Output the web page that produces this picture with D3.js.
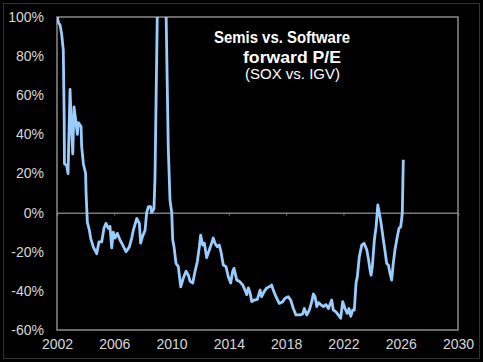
<!DOCTYPE html>
<html>
<head>
<meta charset="utf-8">
<script src="https://cdn.jsdelivr.net/npm/d3@7"></script>
<style>
  body { margin: 0; background: #000; }
  svg { display: block; }
</style>
</head>
<body>
<div id="chart"></div>
<script>
// relative forward P/E, SOX vs IGV
var years = [2002.00, 2002.10, 2002.21, 2002.33, 2002.44, 2002.47, 2002.50, 2002.51, 2002.52, 2002.68,
  2002.77, 2002.91, 2002.98, 2003.10, 2003.19, 2003.31, 2003.42, 2003.49, 2003.68, 2003.72,
  2003.84, 2004.00, 2004.03, 2004.12, 2004.26, 2004.35, 2004.53, 2004.77, 2004.93, 2005.12,
  2005.28, 2005.42, 2005.58, 2005.70, 2005.82, 2005.93, 2006.05, 2006.21, 2006.40, 2006.59,
  2006.82, 2007.05, 2007.22, 2007.33, 2007.57, 2007.75, 2007.84, 2007.98, 2008.15, 2008.26,
  2008.38, 2008.54, 2008.61, 2008.77, 2008.84, 2009.29, 2009.77, 2009.89, 2010.01, 2010.08,
  2010.17, 2010.31, 2010.47, 2010.64, 2010.82, 2011.01, 2011.17, 2011.29, 2011.48, 2011.64,
  2011.80, 2011.94, 2012.03, 2012.17, 2012.29, 2012.45, 2012.64, 2012.80, 2012.91, 2013.03,
  2013.19, 2013.33, 2013.45, 2013.61, 2013.80, 2013.96, 2014.13, 2014.27, 2014.36, 2014.55,
  2014.71, 2014.85, 2014.97, 2015.13, 2015.25, 2015.36, 2015.48, 2015.60, 2015.78, 2015.99,
  2016.18, 2016.29, 2016.46, 2016.64, 2016.83, 2016.99, 2017.10, 2017.29, 2017.52, 2017.76,
  2017.92, 2018.15, 2018.32, 2018.50, 2018.69, 2018.97, 2019.16, 2019.27, 2019.44, 2019.62,
  2019.79, 2019.90, 2020.02, 2020.14, 2020.25, 2020.42, 2020.60, 2020.78, 2020.95, 2021.06,
  2021.18, 2021.29, 2021.48, 2021.64, 2021.81, 2021.95, 2022.11, 2022.27, 2022.39, 2022.51,
  2022.65, 2022.76, 2022.88, 2022.97, 2023.11, 2023.28, 2023.44, 2023.63, 2023.72, 2023.86,
  2023.93, 2024.02, 2024.16, 2024.28, 2024.40, 2024.49, 2024.63, 2024.79, 2024.91, 2025.02,
  2025.14, 2025.25, 2025.37, 2025.48, 2025.60, 2025.76, 2025.88, 2026.00, 2026.11, 2026.18];

var relPE = [101, 97, 96, 91, 83, 66, 49, 37, 25, 24,
  20, 63, 49, 30, 54, 47, 40, 46, 44, 34,
  25, 20, 10, -5, -9, -13, -17.5, -21, -15, -15,
  -8, -5.5, -8, -7, -18, -10, -13, -10.6, -14, -16.6,
  -20, -17.5, -13, -9, -3, -5.5, -15.6, -12, -9, 0,
  3, 3, 0, 2, 17, 250, 33, 6.4, 0, -14,
  -17.4, -26, -27.6, -37.9, -33.5, -30, -32, -35, -36, -30,
  -25, -17.4, -11.5, -16.6, -15.6, -23, -19, -15.6, -13, -15.6,
  -17.4, -16.6, -20, -26.8, -27.6, -32.8, -36, -30, -28.5, -34.5,
  -35, -36, -37, -39.6, -42, -38.5, -41, -45.5, -44.7, -44.3,
  -39.6, -43, -40.4, -38.5, -37.9, -37, -39.6, -43, -46.4, -45.5,
  -43.8, -43, -44.7, -49, -52.3, -52.3, -51.8, -49, -52.3, -49.8,
  -45.5, -41.6, -43, -48, -46, -47, -48, -47, -49, -47,
  -44.7, -49.8, -50.7, -52.3, -54, -45.5, -49, -51.5, -49, -53,
  -49.8, -49.8, -36, -32.8, -22.5, -16.6, -15.7, -19, -22.5, -29.3,
  -32, -27.6, -14, -7.2, 3.9, 0.5, -5.5, -14, -20, -26,
  -26.8, -31, -34.5, -26, -19, -12.3, -8, -7.2, -0.4, 27];

var xTicks = [2002, 2006, 2010, 2014, 2018, 2022, 2026, 2030];
var yTicks = [-60, -40, -20, 0, 20, 40, 60, 80, 100];
var titleLines = ["Semis vs. Software", "forward P/E"];
var subtitle = "(SOX vs. IGV)";

var W = 483, H = 362;
var margin = {top: 17, right: 25, bottom: 32, left: 57},
    width = W - margin.left - margin.right,
    height = H - margin.top - margin.bottom;

var svg = d3.select("#chart")
  .append("svg")
    .attr("width", W)
    .attr("height", H)
    .style("background", "#000");

// outer frame
svg.append("rect")
  .attr("x", 3.5).attr("y", 3.5)
  .attr("width", W - 7).attr("height", H - 7)
  .attr("fill", "none")
  .attr("stroke", "#333")
  .attr("stroke-width", 1);

var g = svg.append("g")
  .attr("transform", "translate(" + margin.left + "," + margin.top + ")");

var x = d3.scaleLinear().domain([2002, 2030]).range([0, width]);
var y = d3.scaleLinear().domain([-60, 100]).range([height, 0]);

g.append("clipPath").attr("id", "plot-clip")
  .append("rect")
    .attr("x", 0).attr("y", 0)
    .attr("width", width).attr("height", height);

// y labels
var yAxis = g.append("g")
  .call(d3.axisLeft(y).tickValues(yTicks).tickSize(0).tickPadding(13)
    .tickFormat(function(d) { return d + "%"; }));
yAxis.select(".domain").remove();

// x labels
var xAxis = g.append("g")
  .attr("transform", "translate(0," + height + ")")
  .call(d3.axisBottom(x).tickValues(xTicks).tickSize(0).tickPadding(9)
    .tickFormat(d3.format("d")));
xAxis.select(".domain").remove();

g.selectAll(".tick text")
  .attr("fill", "#d8d8d8")
  .style("font-family", "'Liberation Sans', Arial, sans-serif")
  .style("font-size", "14px");

// zero line with small ticks
var zeroAxis = g.append("g")
  .attr("transform", "translate(0," + y(0) + ")")
  .call(d3.axisBottom(x).tickValues(xTicks.slice(1, -1)).tickSize(3).tickFormat(""));
zeroAxis.select(".domain").attr("stroke", "#7a7a7a").attr("stroke-width", 1.5);
zeroAxis.selectAll(".tick line").attr("stroke", "#7a7a7a");

// plot frame
g.append("rect")
  .attr("width", width).attr("height", height)
  .attr("fill", "none")
  .attr("stroke", "#8a8a8a")
  .attr("stroke-width", 1.5);

var line = d3.line()
  .x(function(d, i) { return x(years[i]); })
  .y(function(d) { return y(d); });

g.append("path")
  .datum(relPE)
  .attr("clip-path", "url(#plot-clip)")
  .attr("fill", "none")
  .attr("stroke", "#99ccff")
  .attr("stroke-width", 2.8)
  .attr("stroke-linejoin", "round")
  .attr("d", line);

// title, widths fitted to the reference
function titleText(txt, xStart, yBase, size, bold, len) {
  svg.append("text")
    .attr("x", xStart).attr("y", yBase)
    .attr("fill", "#fff")
    .attr("textLength", len)
    .attr("lengthAdjust", "spacingAndGlyphs")
    .style("font-family", "'Liberation Sans', Arial, sans-serif")
    .style("font-weight", bold ? "bold" : "normal")
    .style("font-size", size + "px")
    .text(txt);
}
titleText(titleLines[0], 214, 43, 16, true, 136);
titleText(titleLines[1], 243, 63, 16.5, true, 98);
titleText(subtitle, 245, 79, 14, false, 95);
</script>
</body>
</html>
